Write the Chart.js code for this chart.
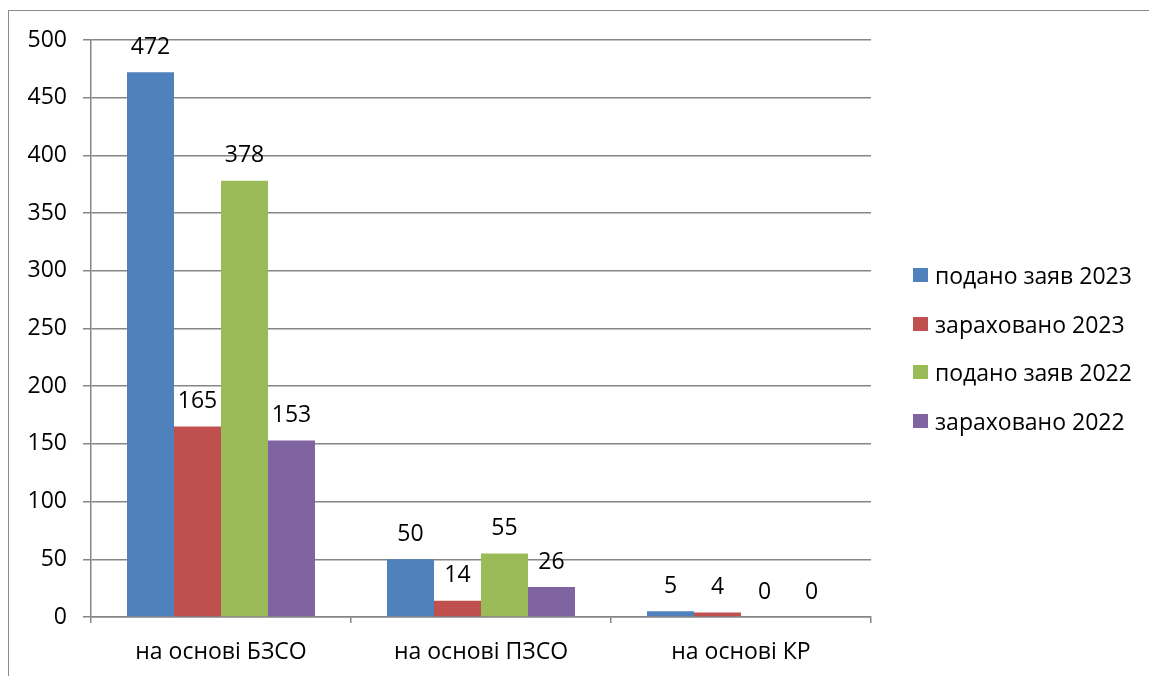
<!DOCTYPE html>
<html><head><meta charset="utf-8">
<script src="https://cdn.jsdelivr.net/npm/chart.js@4"></script>
<style>
html,body{margin:0;padding:0;background:#fff;overflow:hidden}
#wrap{position:relative;width:1149px;height:676px}
#frame{position:absolute;left:8px;top:10px;width:1200px;height:700px;border:1.5px solid #8a8a8a;box-sizing:border-box}
canvas{position:absolute;left:0;top:0}
#legend{position:absolute;left:913px;top:251px;font-family:"Open Sans",sans-serif;font-size:23px;color:#000}
.li{height:48.5px;display:flex;align-items:center;white-space:nowrap}
.sw{width:15px;height:14px;margin-right:7px;flex:none}
</style></head><body>
<div id="wrap"><div id="frame"></div><canvas id="c" width="1149" height="676"></canvas><div id="legend"></div></div>
<script>
const categories = ["на основі БЗСО", "на основі ПЗСО", "на основі КР"];
const seriesNames = ["подано заяв 2023", "зараховано 2023", "подано заяв 2022", "зараховано 2022"];
const submitted2023 = [472, 50, 5];
const enrolled2023 = [165, 14, 4];
const submitted2022 = [378, 55, 0];
const enrolled2022 = [153, 26, 0];
const colors = ["#4F81BD", "#C0504D", "#9BBB59", "#8064A2"];
const yTicks = [0, 50, 100, 150, 200, 250, 300, 350, 400, 450, 500];

const FONT = '"Open Sans", sans-serif';
const FS = 23;
const values = [submitted2023, enrolled2023, submitted2022, enrolled2022];

const labelPlugin = {
  id: 'vals',
  afterDatasetsDraw(chart) {
    const ctx = chart.ctx;
    ctx.save();
    ctx.font = FS + 'px ' + FONT;
    ctx.fillStyle = '#000';
    ctx.textAlign = 'center';
    ctx.textBaseline = 'middle';
    chart.data.datasets.forEach((ds, i) => {
      chart.getDatasetMeta(i).data.forEach((bar, j) => {
        ctx.fillText(String(ds.data[j]), bar.x, bar.y - 25);
      });
    });
    ctx.restore();
  }
};

new Chart(document.getElementById('c'), {
  type: 'bar',
  data: {
    labels: categories,
    datasets: seriesNames.map((n, i) => ({
      label: n, data: values[i], backgroundColor: colors[i], borderWidth: 0,
      barPercentage: 1, categoryPercentage: 0.723
    }))
  },
  options: {
    responsive: false, animation: false, devicePixelRatio: 1,
    layout: { padding: { left: 0, top: 40, right: 278, bottom: 0 } },
    plugins: { legend: { display: false }, tooltip: { enabled: false } },
    scales: {
      x: {
        offset: true,
        grid: { offset: true, drawOnChartArea: false, color: '#868686', tickLength: 6, lineWidth: 1.5 },
        border: { color: '#868686', width: 1.5 },
        ticks: { color: '#000', font: { family: FONT, size: FS }, padding: 16 },
        afterFit(s) { s.height = 59; }
      },
      y: {
        min: 0, max: 500,
        afterBuildTicks(s) { s.ticks = yTicks.map(v => ({ value: v })); },
        grid: { color: '#868686', tickLength: 8, lineWidth: 1.5 },
        border: { color: '#868686', width: 1.5 },
        ticks: { color: '#000', font: { family: FONT, size: FS }, padding: 16 },
        afterFit(s) { s.width = 91; }
      }
    }
  },
  plugins: [labelPlugin]
});

const lg = document.getElementById('legend');
seriesNames.forEach((n, i) => {
  const d = document.createElement('div'); d.className = 'li';
  const s = document.createElement('span'); s.className = 'sw'; s.style.background = colors[i];
  const t = document.createElement('span'); t.textContent = n;
  d.appendChild(s); d.appendChild(t); lg.appendChild(d);
});
</script>
</body></html>
